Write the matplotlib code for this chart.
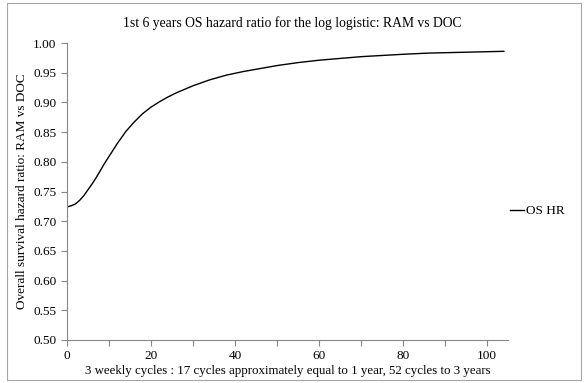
import matplotlib
matplotlib.use("Agg")
import matplotlib.pyplot as plt
from matplotlib.patches import Rectangle

plt.rcParams['font.family'] = ['Liberation Serif', 'DejaVu Serif']

# 3 weekly cycles and the OS hazard ratio RAM vs DOC (log logistic)
cycles = [0, 1, 2, 3, 4, 5, 6, 7, 8, 9, 10, 12, 14, 16, 18, 20, 22, 24, 26,
          28, 30, 34, 38, 42, 46, 50, 55, 60, 65, 70, 75, 80, 86, 92, 98, 104]
os_hr = [0.724, 0.726, 0.729, 0.735, 0.743, 0.753, 0.763, 0.774, 0.786, 0.798,
         0.809, 0.831, 0.851, 0.867, 0.881, 0.892, 0.901, 0.909, 0.916, 0.922,
         0.928, 0.938, 0.946, 0.952, 0.957, 0.962, 0.967, 0.971, 0.974, 0.977,
         0.979, 0.981, 0.983, 0.984, 0.985, 0.986]

x_ticks = list(range(0, 101, 10))
x_labels = [str(t) if t % 20 == 0 else '' for t in x_ticks]
y_ticks = [0.50, 0.55, 0.60, 0.65, 0.70, 0.75, 0.80, 0.85, 0.90, 0.95, 1.00]

W, H = 585, 383
fig = plt.figure(figsize=(W / 100, H / 100), dpi=100)
ax = fig.add_axes([67 / W, 1 - 340 / H, (508 - 67) / W, (340 - 43) / H])

ax.plot(cycles, os_hr, color='black', lw=1.0, label='OS HR')

ax.set_xlim(0, 105)
ax.set_ylim(0.5, 1.0)
ax.set_xticks(x_ticks)
ax.set_xticklabels(x_labels)
ax.set_yticks(y_ticks)
ax.set_yticklabels([f'{v:.2f}' for v in y_ticks])

grey = '#868686'
for side in ['top', 'right']:
    ax.spines[side].set_visible(False)
for side in ['left', 'bottom']:
    ax.spines[side].set_color(grey)
    ax.spines[side].set_linewidth(0.8)
ax.tick_params(colors=grey, labelcolor='black', labelsize=9.5, length=4,
               width=0.8, direction='out')

ax.set_xlabel('3 weekly cycles : 17 cycles approximately equal to 1 year, 52 cycles to 3 years',
              fontsize=9.3, labelpad=2)
ax.set_ylabel('Overall survival hazard ratio: RAM vs DOC', fontsize=9.5, labelpad=4)
fig.text(0.5, 1 - 23 / H, '1st 6 years OS hazard ratio for the log logistic: RAM vs DOC',
         ha='center', va='center', fontsize=9.8)

fig.legend(loc='center left', bbox_to_anchor=(503 / W, 1 - 211 / H), frameon=False,
           handlelength=1.1, handletextpad=0.15, borderpad=0, fontsize=9.5)

# chart area border
fig.patches.append(Rectangle((7 / W, 3 / H), (581 - 7) / W, (380 - 3) / H,
                             transform=fig.transFigure, fill=False,
                             edgecolor='#a6a6a6', lw=0.8))

fig.savefig('out.png', dpi=100)
